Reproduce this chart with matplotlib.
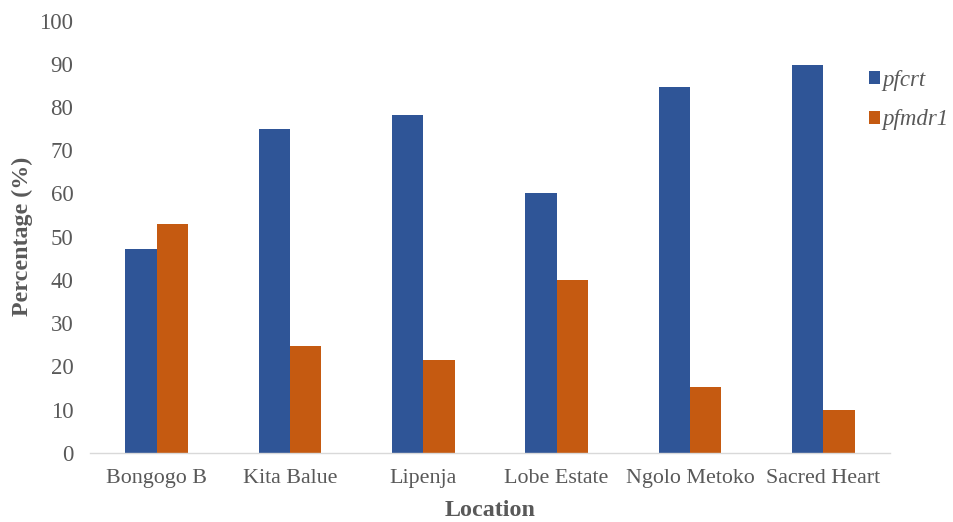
import matplotlib
matplotlib.use("Agg")
import matplotlib.pyplot as plt
import numpy as np

locations = ["Bongogo B", "Kita Balue", "Lipenja", "Lobe Estate", "Ngolo Metoko", "Sacred Heart"]
pfcrt = [47.1, 74.9, 78.1, 60.0, 84.6, 89.7]
pfmdr1 = [52.9, 24.7, 21.5, 40.0, 15.2, 10.0]
series_names = ["pfcrt", "pfmdr1"]
yticks = [0, 10, 20, 30, 40, 50, 60, 70, 80, 90, 100]

blue = "#2F5597"
orange = "#C55A11"
gray = "#595959"

plt.rcParams['font.family'] = ['Liberation Serif', 'DejaVu Serif']

fig = plt.figure(figsize=(9.54, 5.22), dpi=100)
ax = fig.add_axes([90/954, 1-452.7/522, 800/954, 432/522])

x = np.arange(len(locations))
w = 0.235
b1 = ax.bar(x - w/2, pfcrt, width=w, color=blue, label=series_names[0])
b2 = ax.bar(x + w/2, pfmdr1, width=w, color=orange, label=series_names[1])

ax.set_xlim(-0.5, len(locations) - 0.5)
ax.set_ylim(0, 100)
ax.set_yticks(yticks)
ax.set_yticklabels([str(t) for t in yticks])
ax.set_xticks(x)
ax.set_xticklabels(locations)
ax.tick_params(axis='both', length=0, labelcolor=gray)
ax.tick_params(axis='y', pad=12, labelsize=16.5)
ax.tick_params(axis='x', pad=12, labelsize=15.8)
for s in ['top', 'right', 'left']:
    ax.spines[s].set_visible(False)
ax.spines['bottom'].set_color('#D9D9D9')
ax.spines['bottom'].set_linewidth(1.0)

fig.text(22/954, 1-236/522, "Percentage (%)", rotation=90, ha='center', va='center',
         fontsize=17.3, fontweight='bold', color=gray)
fig.text(490/954, 1/522, "Location", ha='center', va='bottom',
         fontsize=17.3, fontweight='bold', color=gray)

leg = fig.legend(handles=[b1, b2], loc='upper left', bbox_to_anchor=(869/954, 1-70/522),
                 frameon=False, handlelength=0.5, handleheight=0.5, handletextpad=0.08,
                 labelspacing=0.8, borderaxespad=0, borderpad=0,
                 prop={'size': 16.5, 'style': 'italic'})
for t in leg.get_texts():
    t.set_color(gray)

fig.savefig("out.png", dpi=100)
